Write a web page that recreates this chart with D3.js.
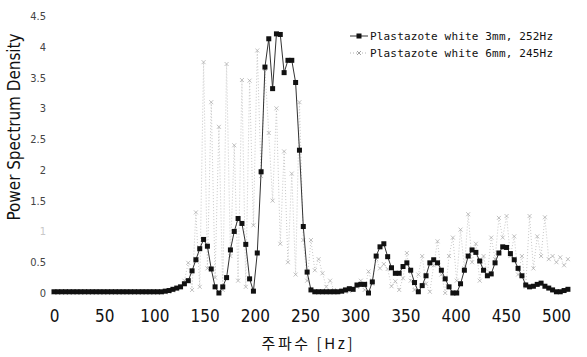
<!DOCTYPE html>
<html>
<head>
<meta charset="utf-8">
<script src="https://cdn.jsdelivr.net/npm/d3@7.9.0/dist/d3.min.js"></script>
<style>
  body { margin: 0; background: #fff; }
  svg { display: block; }
</style>
</head>
<body>
<svg id="chart" width="587" height="357"></svg>
<script>
// frequency grid: 135 samples, ~3.82 Hz apart
const freqs = d3.range(135).map(i => i * 3.82);

const white3mm = [
  0.02, 0.02, 0.02, 0.02, 0.02, 0.02, 0.02, 0.02, 0.02, 0.02,
  0.02, 0.02, 0.02, 0.02, 0.02, 0.02, 0.02, 0.02, 0.02, 0.02,
  0.02, 0.02, 0.02, 0.02, 0.02, 0.02, 0.02, 0.02, 0.02, 0.03,
  0.04, 0.06, 0.08, 0.10, 0.15, 0.20, 0.36, 0.54, 0.72, 0.87,
  0.76, 0.39, 0.10, 0.00, 0.10, 0.25, 0.70, 1.00, 1.21, 1.13,
  0.79, 0.23, 0.03, 0.65, 1.97, 3.67, 4.13, 3.32, 4.21, 4.20,
  3.58, 3.78, 3.78, 3.42, 2.32, 1.08, 0.34, 0.05, 0.02, 0.02,
  0.02, 0.02, 0.02, 0.02, 0.02, 0.03, 0.05, 0.07, 0.06, 0.13,
  0.14, 0.14, 0.00, 0.18, 0.60, 0.75, 0.80, 0.59, 0.41, 0.32,
  0.32, 0.43, 0.49, 0.37, 0.17, 0.02, 0.12, 0.28, 0.49, 0.54,
  0.49, 0.37, 0.23, 0.10, 0.00, 0.00, 0.15, 0.37, 0.60, 0.70,
  0.66, 0.52, 0.37, 0.28, 0.31, 0.49, 0.65, 0.75, 0.74, 0.64,
  0.54, 0.40, 0.28, 0.13, 0.10, 0.11, 0.14, 0.16, 0.11, 0.08,
  0.05, 0.02, 0.02, 0.04, 0.06
];

const white6mm = [
  0.01, 0.01, 0.01, 0.01, 0.01, 0.01, 0.01, 0.01, 0.01, 0.01,
  0.01, 0.01, 0.01, 0.01, 0.01, 0.01, 0.01, 0.01, 0.01, 0.01,
  0.01, 0.01, 0.01, 0.01, 0.01, 0.01, 0.01, 0.01, 0.01, 0.01,
  0.02, 0.04, 0.06, 0.10, 0.20, 0.49, 0.05, 1.31, 0.10, 3.75,
  0.40, 3.10, 0.25, 2.70, 0.05, 3.72, 0.60, 2.40, 0.20, 3.46,
  0.10, 3.45, 1.10, 3.94, 1.90, 3.64, 2.60, 1.50, 3.00, 0.80,
  2.30, 0.50, 1.94, 0.30, 3.10, 0.86, 0.20, 0.86, 0.37, 0.55,
  0.32, 0.10, 0.20, 0.05, 0.03, 0.02, 0.02, 0.03, 0.05, 0.10,
  0.20, 0.05, 0.35, 0.15, 0.55, 0.40, 0.47, 0.39, 0.11, 0.19,
  0.05, 0.24, 0.65, 0.20, 0.05, 0.30, 0.60, 0.15, 0.02, 0.45,
  0.84, 0.30, 0.00, 0.60, 0.90, 0.20, 1.03, 0.40, 1.28, 0.50,
  0.80, 0.20, 0.60, 0.30, 0.90, 0.55, 1.22, 0.90, 1.25, 0.60,
  0.92, 0.30, 0.60, 0.10, 1.25, 0.40, 0.92, 0.60, 1.23, 0.55,
  0.60, 0.50, 0.58, 0.45, 0.55
];

const xTicks = [0, 50, 100, 150, 200, 250, 300, 350, 400, 450, 500];
const yTicks = [0, 0.5, 1, 1.5, 2, 2.5, 3, 3.5, 4, 4.5];
const legendLabels = ['Plastazote white 3mm, 252Hz', 'Plastazote white 6mm, 245Hz'];

const svg = d3.select('#chart');

const x = d3.scaleLinear().domain([0, 500]).range([54, 556]);
const y = d3.scaleLinear().domain([0, 4.5]).range([293, 16]);

// x axis (labels only)
const xAxis = svg.append('g')
  .attr('transform', 'translate(0,310)')
  .call(d3.axisBottom(x).tickValues(xTicks).tickSize(0).tickFormat(d3.format('d')));
xAxis.select('.domain').remove();
xAxis.selectAll('text')
  .attr('font-family', '"Liberation Sans Narrow", "DejaVu Sans Condensed", sans-serif')
  .attr('font-size', 17)
  .attr('fill', '#111')
  .attr('dy', '0.71em')
  .attr('y', 0);

// y axis (labels only)
const yAxis = svg.append('g')
  .attr('transform', 'translate(46,0)')
  .call(d3.axisLeft(y).tickValues(yTicks).tickSize(0).tickFormat(d => String(d)));
yAxis.select('.domain').remove();
yAxis.selectAll('text')
  .attr('font-family', '"Liberation Sans Narrow", "DejaVu Sans Condensed", sans-serif')
  .attr('font-size', 11)
  .attr('x', 0)
  .attr('fill', d => d === 1 ? '#c8c8c8' : '#444');

// titles
svg.append('text')
  .attr('transform', 'translate(20,127) rotate(-90)')
  .attr('text-anchor', 'middle')
  .attr('font-family', '"Liberation Sans Narrow", "DejaVu Sans Condensed", sans-serif')
  .attr('font-size', 17)
  .attr('textLength', 187)
  .attr('lengthAdjust', 'spacing')
  .attr('fill', '#111')
  .text('Power Spectrum Density');

svg.append('text')
  .attr('x', 307)
  .attr('y', 349)
  .attr('text-anchor', 'middle')
  .attr('font-family', '"Noto Sans CJK KR", sans-serif')
  .attr('font-size', 15)
  .attr('textLength', 91)
  .attr('lengthAdjust', 'spacing')
  .attr('fill', '#111')
  .text('주파수 [Hz]');

const line = d3.line()
  .x((d, i) => x(freqs[i]))
  .y(d => y(d));

// 6mm series: faint dotted line with x markers
svg.append('path')
  .datum(white6mm)
  .attr('fill', 'none')
  .attr('stroke', '#c8c8c8')
  .attr('stroke-width', 1)
  .attr('stroke-dasharray', '1,2')
  .attr('d', line);

const crossPath = 'M-2,-2L2,2M-2,2L2,-2';

svg.append('g').selectAll('path')
  .data(white6mm)
  .join('path')
  .attr('transform', (d, i) => `translate(${x(freqs[i])},${y(d)})`)
  .attr('d', crossPath)
  .attr('stroke', '#a8a8a8')
  .attr('stroke-width', 0.7)
  .attr('fill', 'none');

// 3mm series: dark line with square markers
svg.append('path')
  .datum(white3mm)
  .attr('fill', 'none')
  .attr('stroke', '#333')
  .attr('stroke-width', 1)
  .attr('d', line);

svg.append('g').selectAll('rect')
  .data(white3mm)
  .join('rect')
  .attr('x', (d, i) => x(freqs[i]) - 2.5)
  .attr('y', d => y(d) - 2.5)
  .attr('width', 5)
  .attr('height', 5)
  .attr('fill', '#111');

// legend
const legend = svg.append('g');
const legendRows = legend.selectAll('g')
  .data(legendLabels)
  .join('g')
  .attr('transform', (d, i) => `translate(350,${36 + i * 17})`);

legendRows.append('line')
  .attr('x1', 0).attr('x2', 18)
  .attr('y1', 0).attr('y2', 0)
  .attr('stroke', (d, i) => i === 0 ? '#333' : '#b4b4b4')
  .attr('stroke-dasharray', (d, i) => i === 0 ? null : '1,2');

legendRows.each(function(d, i) {
  const g = d3.select(this);
  if (i === 0) {
    g.append('rect').attr('x', 6.5).attr('y', -2.5).attr('width', 5).attr('height', 5).attr('fill', '#111');
  } else {
    g.append('path').attr('transform', 'translate(9,0)').attr('d', crossPath)
      .attr('stroke', '#8c8c8c').attr('stroke-width', 0.8);
  }
});

legendRows.append('text')
  .attr('x', 20)
  .attr('y', 4)
  .attr('font-family', '"DejaVu Sans Mono", monospace')
  .attr('font-size', 11)
  .attr('textLength', 183)
  .attr('lengthAdjust', 'spacing')
  .attr('fill', '#111')
  .text(d => d);
</script>
</body>
</html>
